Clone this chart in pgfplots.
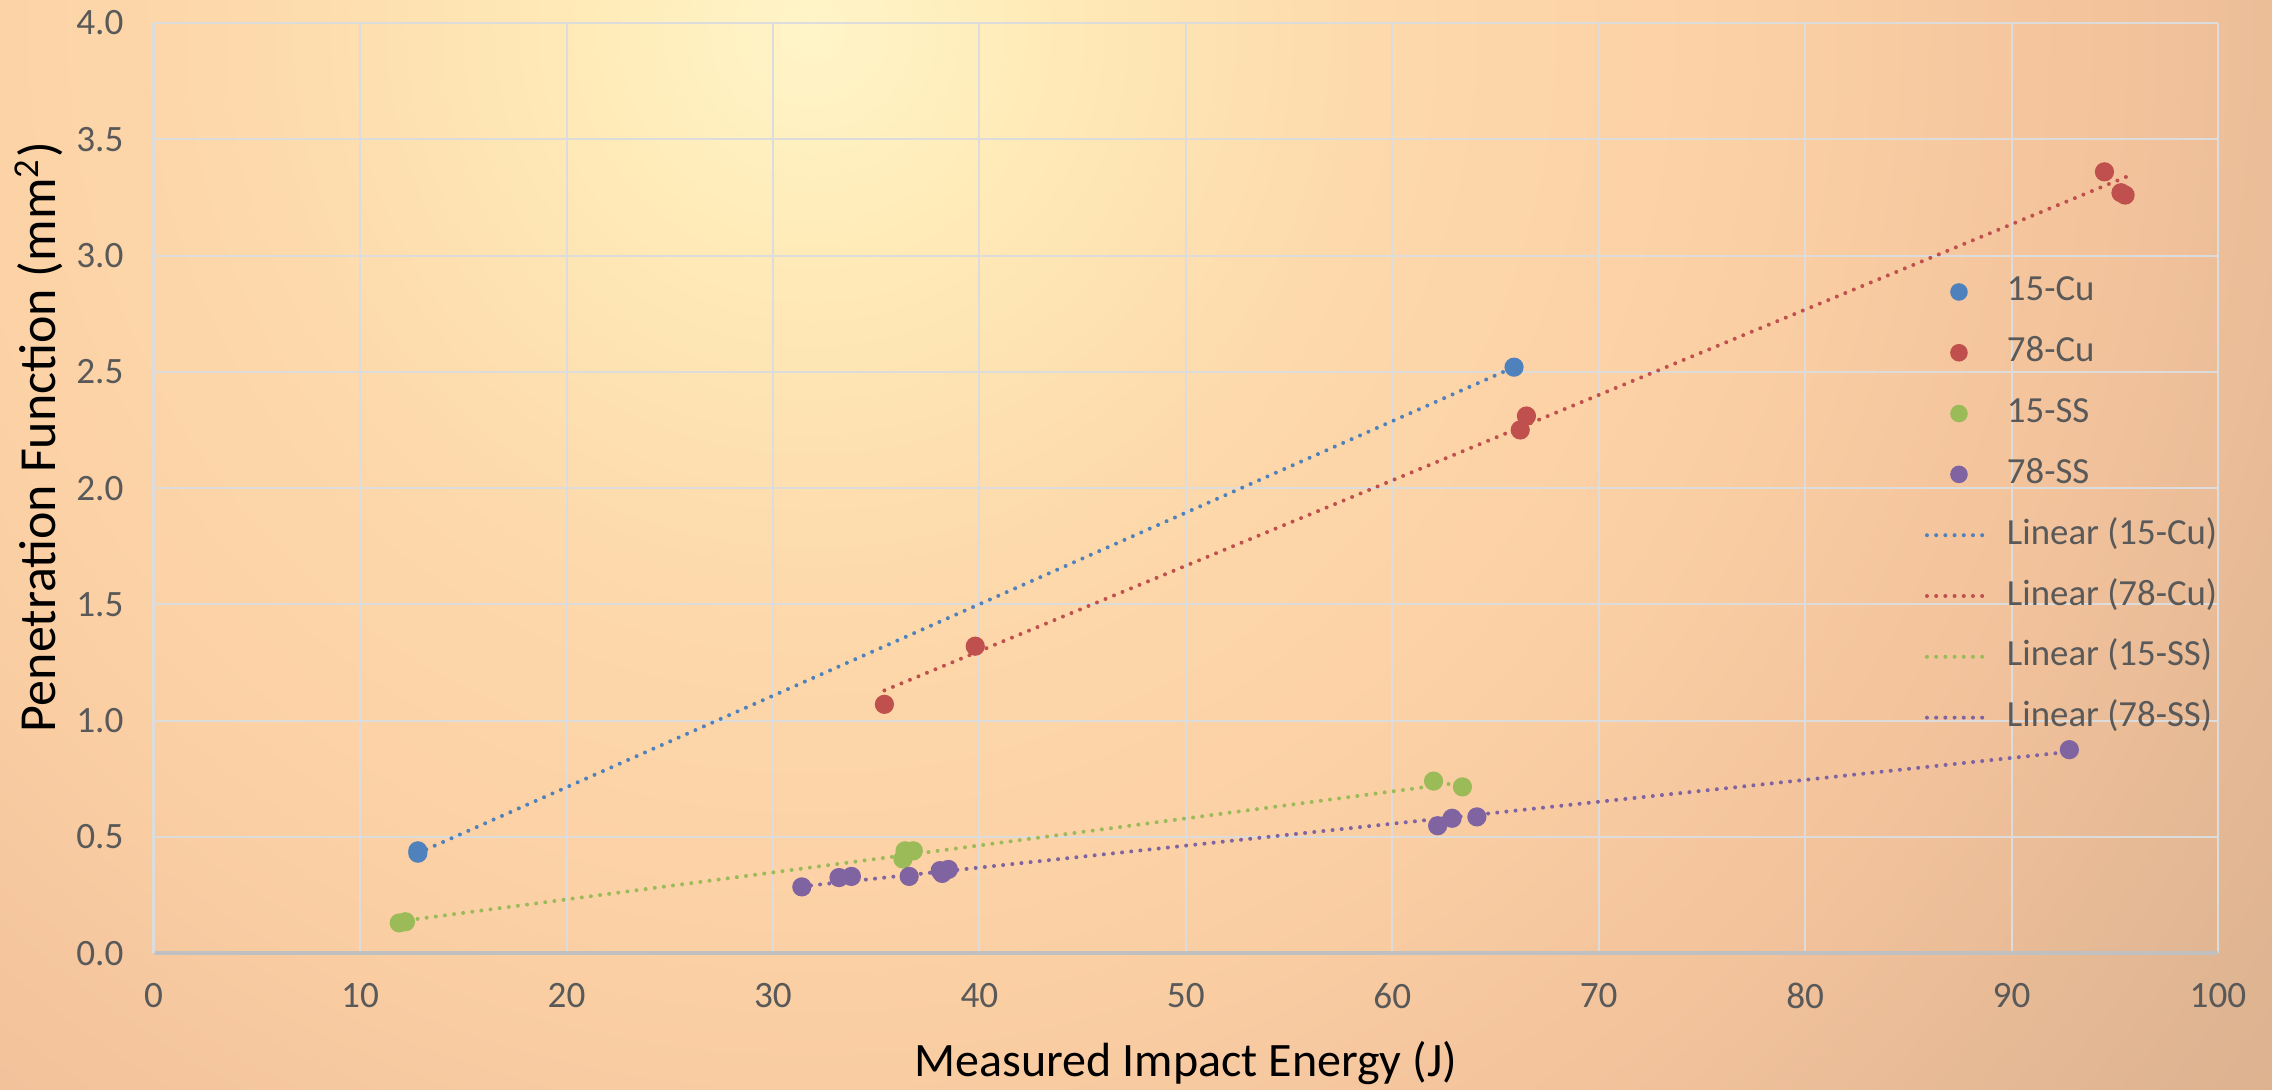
\documentclass[border=0pt]{standalone}
\usepackage{fontspec}
\setmainfont{Carlito}
\usepackage{pgfplots}
\pgfplotsset{compat=1.18}
\definecolor{cCuA}{HTML}{4F81BD}
\definecolor{cCuB}{HTML}{C0504D}
\definecolor{cSSA}{HTML}{9BBB59}
\definecolor{cSSB}{HTML}{8064A2}
\definecolor{txt}{HTML}{595959}
\definecolor{gridc}{HTML}{DCDCDC}
\definecolor{axc}{HTML}{C0C0C0}
\definecolor{bg0}{HTML}{FFF5C8}
\definecolor{bg1}{HTML}{FFEBB8}
\definecolor{bg2}{HTML}{FDD9AB}
\definecolor{bg3}{HTML}{FBCFA4}
\definecolor{bg4}{HTML}{F3C39C}
\definecolor{bg5}{HTML}{E0B592}
\definecolor{bg6}{HTML}{D3AB8B}
\definecolor{bg7}{HTML}{C9A385}
\pgfdeclareradialshading{bgshade}{\pgfpoint{0bp}{0bp}}{%
  color(0bp)=(bg0); color(3.07bp)=(bg1); color(7.69bp)=(bg2);
  color(13.07bp)=(bg3); color(17.68bp)=(bg4); color(23.06bp)=(bg5);
  color(28.44bp)=(bg6); color(35.36bp)=(bg7); color(50bp)=(bg7)}
\pgfplotstableread{
x y
12.8 0.44
12.8 0.43
65.9 2.52
}\CuA
\pgfplotstableread{
x y
35.4 1.07
39.8 1.32
66.2 2.25
66.5 2.31
94.5 3.36
95.3 3.27
95.5 3.26
}\CuB
\pgfplotstableread{
x y
11.9 0.13
12.2 0.135
36.4 0.44
36.8 0.44
36.3 0.405
62.0 0.74
63.4 0.715
}\SSA
\pgfplotstableread{
x y
31.4 0.285
33.2 0.325
33.8 0.33
36.6 0.33
38.1 0.355
38.2 0.343
38.5 0.36
62.2 0.548
62.9 0.58
64.1 0.586
92.8 0.875
}\SSB
\begin{document}
\begin{tikzpicture}
\begin{scope}
\clip (-38.4pt,-34pt) rectangle (529.5pt,238.25pt);
\shade[shading=bgshade] (164.4pt,231pt) circle (460pt);
\end{scope}
\useasboundingbox (-38.4pt,-34pt) rectangle (529.5pt,238.25pt);
\begin{axis}[
  scale only axis, width=516pt, height=232.5pt,
  at={(0,0)}, anchor=south west,
  xmin=0, xmax=100, ymin=0, ymax=4,
  xtick={0,10,...,100}, ytick={0,0.5,...,4},
  yticklabel style={/pgf/number format/fixed, /pgf/number format/fixed zerofill, /pgf/number format/precision=1},
  /pgf/number format/assume math mode=true,
  tick label style={font=\fontsize{9.3}{11}\selectfont, text=txt},
  xticklabel style={yshift=-4pt},
  yticklabel style={xshift=-4pt},
  major tick length=0pt,
  grid=major, major grid style={gridc, line width=0.5pt},
  axis x line*=bottom, axis y line*=left,
  x axis line style={axc, line width=0.9pt, -},
  y axis line style={gridc, line width=0.6pt, -},
  xlabel={Measured Impact Energy (J)},
  ylabel={Penetration Function (mm\textsuperscript{2})},
  label style={text=black},
  xlabel style={font=\fontsize{12}{14}\selectfont, at={(axis description cs:0.5,-0.118)}, anchor=center},
  ylabel style={font=\fontsize{13}{15}\selectfont, at={(axis description cs:-0.0555,0.555)}, anchor=center},
  legend style={draw=none, fill=none, at={(rel axis cs:1,0.73)}, anchor=north east,
    font=\fontsize{9.2}{11}\selectfont, text=txt, inner sep=0pt, row sep=6.7pt, column sep=3.5pt,
    nodes={inner sep=0pt, text height=6.5pt, text depth=2pt}},
  legend cell align=left,
  trend/.style={line width=1pt, line cap=round, dash pattern=on 0pt off 2.3pt,
    legend image code/.code={\draw[##1] (0pt,0pt) -- (16pt,0pt);}},
  dots/.style={only marks, mark=*, mark size=2.2pt, mark options={draw=none, fill=#1}, color=#1,
    legend image code/.code={\path[draw=none,fill=none] (0pt,0pt) -- (16pt,0pt); \fill[#1,draw=none] (8pt,0pt) circle (2.2pt);}},
]
\addplot[dots=cCuA] table {\CuA};
\addlegendentry{15-Cu}
\addplot[dots=cCuB] table {\CuB};
\addlegendentry{78-Cu}
\addplot[dots=cSSA] table {\SSA};
\addlegendentry{15-SS}
\addplot[dots=cSSB] table {\SSB};
\addlegendentry{78-SS}
\addplot[trend, cCuA] coordinates {(12.8,0.43) (65.9,2.52)};
\addlegendentry{Linear (15-Cu)}
\addplot[trend, cCuB] coordinates {(35.4,1.13) (95.6,3.34)};
\addlegendentry{Linear (78-Cu)}
\addplot[trend, cSSA] coordinates {(11.9,0.137) (63.4,0.735)};
\addlegendentry{Linear (15-SS)}
\addplot[trend, cSSB] coordinates {(31.4,0.287) (92.8,0.866)};
\addlegendentry{Linear (78-SS)}
\end{axis}
\end{tikzpicture}
\end{document}
